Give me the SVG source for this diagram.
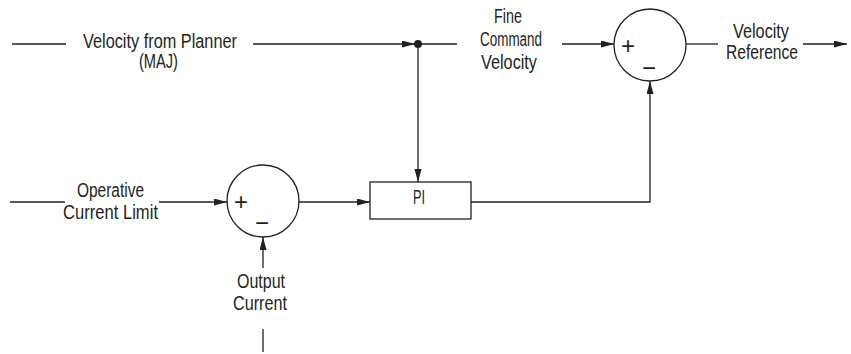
<svg xmlns="http://www.w3.org/2000/svg" width="851" height="354" viewBox="0 0 851 354">
<defs>
<marker id="arr" markerUnits="userSpaceOnUse" markerWidth="14" markerHeight="8" refX="13" refY="3.5" orient="auto">
<path d="M0,0 L13,3.5 L0,7 z" fill="#231f20"/>
</marker>
</defs>
<style>
.ln{stroke:#231f20;stroke-width:1.3;fill:none}
.ar{marker-end:url(#arr)}
.nd{stroke:#231f20;stroke-width:1.3;fill:#fff}
.t{font-family:"Liberation Sans",Arial,sans-serif;font-size:19.5px;fill:#231f20;text-anchor:middle}
.s{font-family:"Liberation Sans",Arial,sans-serif;font-size:24px;fill:#231f20;text-anchor:middle}
</style>
<rect width="851" height="354" fill="#fff"/>
<g id="connectors">
<path class="ln" d="M12,44 H66"/>
<path class="ln ar" d="M253,44 H415"/>
<path class="ln" d="M418,44 H457"/>
<path class="ln ar" d="M562,44 H614"/>
<path class="ln" d="M686,44 H718"/>
<path class="ln ar" d="M803,44 H847"/>
<path class="ln ar" d="M418,44 V182"/>
<path class="ln" d="M10,202 H65"/>
<path class="ln ar" d="M159,202 H227"/>
<path class="ln ar" d="M299,202 H370"/>
<path class="ln ar" d="M471,202 H650 V81"/>
<path class="ln ar" d="M263,268 V237"/>
<path class="ln" d="M263,329 V352"/>
<circle cx="418" cy="44" r="4" fill="#231f20"/>
</g>
<g id="label-planner">
<text class="t" x="160" y="47.5" textLength="154" lengthAdjust="spacingAndGlyphs">Velocity from Planner</text>
<text class="t" x="158.5" y="68" textLength="39" lengthAdjust="spacingAndGlyphs">(MAJ)</text>
</g>
<g id="label-fine">
<text class="t" x="508" y="23" textLength="28" lengthAdjust="spacingAndGlyphs">Fine</text>
<text class="t" x="511" y="46" textLength="62" lengthAdjust="spacingAndGlyphs">Command</text>
<text class="t" x="509" y="68.5" textLength="56" lengthAdjust="spacingAndGlyphs">Velocity</text>
</g>
<g id="label-ref">
<text class="t" x="761" y="37.5" textLength="56" lengthAdjust="spacingAndGlyphs">Velocity</text>
<text class="t" x="762" y="58.5" textLength="72" lengthAdjust="spacingAndGlyphs">Reference</text>
</g>
<g id="label-limit">
<text class="t" x="110.5" y="197" textLength="67" lengthAdjust="spacingAndGlyphs">Operative</text>
<text class="t" x="110.5" y="218.5" textLength="95" lengthAdjust="spacingAndGlyphs">Current Limit</text>
</g>
<g id="label-output">
<text class="t" x="261" y="288" textLength="48" lengthAdjust="spacingAndGlyphs">Output</text>
<text class="t" x="260" y="309.5" textLength="54" lengthAdjust="spacingAndGlyphs">Current</text>
</g>
<g id="sum-top">
<circle class="nd" cx="650" cy="45" r="36"/>
<text class="s" x="628" y="54">+</text>
<text class="s" x="649" y="76">−</text>
</g>
<g id="sum-bottom">
<circle class="nd" cx="263" cy="201" r="36"/>
<text class="s" x="241" y="210">+</text>
<text class="s" x="262" y="231">−</text>
</g>
<g id="pi">
<rect class="nd" x="370" y="182" width="101" height="37"/>
<text class="t" x="419" y="203.5" textLength="12" lengthAdjust="spacingAndGlyphs">PI</text>
</g>
</svg>
